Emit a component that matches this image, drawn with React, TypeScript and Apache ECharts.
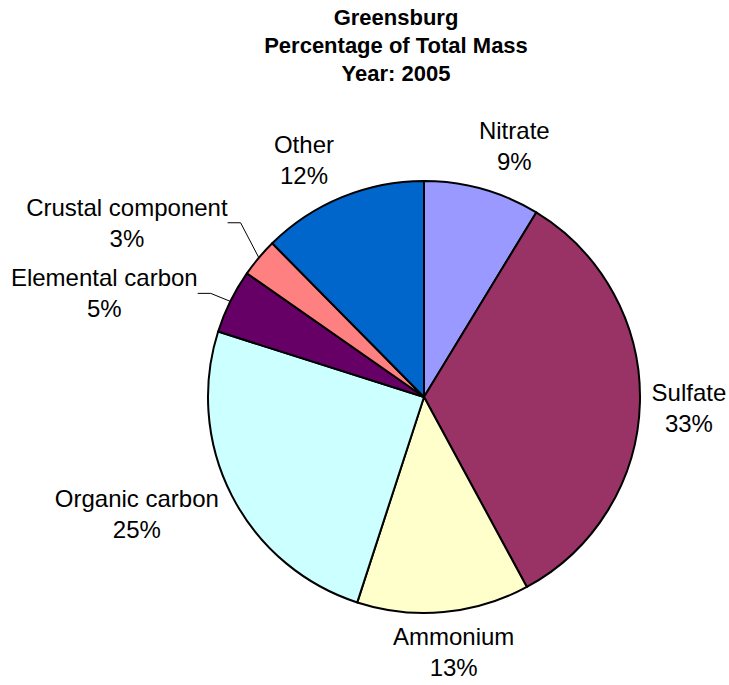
import React, { useEffect, useRef } from "react";
import * as echarts from "echarts";

const TITLE_LINES = ["Greensburg", "Percentage of Total Mass", "Year: 2005"];
const CATEGORIES = [
  "Nitrate",
  "Sulfate",
  "Ammonium",
  "Organic carbon",
  "Elemental carbon",
  "Crustal component",
  "Other",
];
const VALUES = [8.7, 33.4, 12.9, 24.9, 4.8, 2.9, 12.4];
const COLORS = ["#9999FF", "#993366", "#FFFFCC", "#CCFFFF", "#660066", "#FF8080", "#0066CC"];
const HAS_LEADER = [false, false, false, false, true, true, false];

// label placement offsets (px) from the outer midpoint of each slice
const LABEL_NUDGE: [number, number][] = [
  [32, -43],
  [49, 6],
  [10, 40],
  [-95, 18],
  [-126, -8],
  [-132, -35],
  [-38, -37],
];

const CX = 424;
const CY = 397;
const R = 216;
const FONT = "'Liberation Sans', Arial, Helvetica, sans-serif";

export default function App() {
  const ref = useRef<HTMLDivElement>(null);

  useEffect(() => {
    if (!ref.current) return;
    const chart = echarts.init(ref.current, undefined, { renderer: "svg" });
    const total = VALUES.reduce((a, b) => a + b, 0);
    const midAngles: number[] = [];
    let acc = 0;
    VALUES.forEach((v) => {
      midAngles.push(((acc + v / 2) / total) * Math.PI * 2);
      acc += v;
    });

    chart.setOption({
      animation: false,
      backgroundColor: "#ffffff",
      graphic: [
        {
          type: "text",
          x: 396,
          y: 3,
          style: {
            text: TITLE_LINES.join("\n"),
            fontFamily: FONT,
            fontSize: 22,
            fontWeight: "bold",
            lineHeight: 28,
            fill: "#000",
            align: "center",
            verticalAlign: "top",
          },
        },
      ],
      series: [
        {
          type: "pie",
          center: [CX, CY],
          radius: [0, R],
          startAngle: 90,
          clockwise: true,
          avoidLabelOverlap: false,
          itemStyle: { borderColor: "#000", borderWidth: 2 },
          emphasis: { disabled: true },
          label: {
            show: true,
            position: "outside",
            fontFamily: FONT,
            fontSize: 24,
            lineHeight: 31,
            color: "#000",
            align: "center",
            formatter: (p: any) => `${p.name}\n${Math.round(p.percent)}%`,
          },
          labelLine: {
            length: 8,
            length2: 13,
            lineStyle: { color: "#000", width: 1 },
          },
          labelLayout: (params: any) => {
            const i = params.dataIndex;
            const a = midAngles[i];
            const bx = CX + R * Math.sin(a);
            const by = CY - R * Math.cos(a);
            return {
              x: bx + LABEL_NUDGE[i][0],
              y: by + LABEL_NUDGE[i][1],
              align: "center",
              verticalAlign: "middle",
            };
          },
          data: CATEGORIES.map((name, i) => ({
            name,
            value: VALUES[i],
            itemStyle: { color: COLORS[i] },
            labelLine: { show: HAS_LEADER[i] },
          })),
        },
      ],
    });
    return () => chart.dispose();
  }, []);

  return (
    <div
      ref={ref}
      style={{ position: "fixed", left: 0, top: 0, width: 729, height: 685, background: "#fff" }}
    />
  );
}
